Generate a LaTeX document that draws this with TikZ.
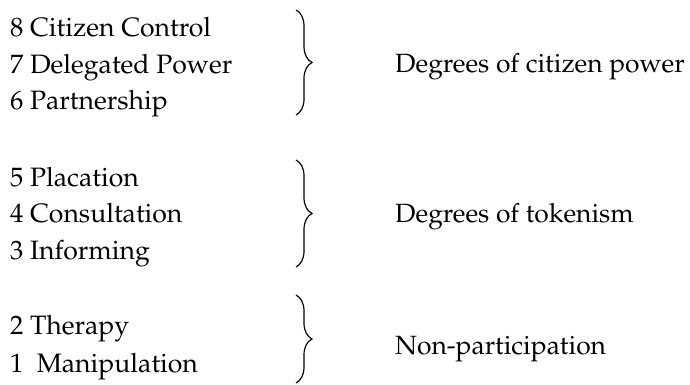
\documentclass[tikz,border=0pt]{standalone}
\usepackage[T1]{fontenc}
\usepackage{mathpazo}
\usepackage{tikz}
\usetikzlibrary{decorations.pathreplacing}

\begin{document}
\begin{tikzpicture}[
  x=1pt,y=1pt,
  rung/.style={anchor=base west,inner sep=0pt,font=\fontsize{26.6}{30}\selectfont},
  level/.style={anchor=base west,inner sep=0pt,font=\fontsize{26.4}{30}\selectfont},
  grp/.style={decorate,decoration={brace,amplitude=16pt},line width=1.2pt}
]
  \useasboundingbox (0,0) rectangle (690,385);
  % ladder rungs
  \node[rung] (r8) at (10,348) {8 Citizen Control};
  \node[rung] (r7) at (10,311.5) {7 Delegated Power};
  \node[rung] (r6) at (10,275) {6 Partnership};
  \node[rung] (r5) at (10,198) {5 Placation};
  \node[rung] (r4) at (10,162) {4 Consultation};
  \node[rung] (r3) at (10,125) {3 Informing};
  \node[rung] (r2) at (10,50) {2 Therapy};
  \node[rung] (r1) at (10,12) {1~~Manipulation};
  % braces
  \coordinate (power top) at (296,375);
  \coordinate (power bot) at (296,270);
  \coordinate (token top) at (296,225);
  \coordinate (token bot) at (296,118);
  \coordinate (nonp top) at (296,90);
  \coordinate (nonp bot) at (296,2);
  \draw[grp] (power top) -- (power bot);
  \draw[grp] (token top) -- (token bot);
  \draw[grp] (nonp top) -- (nonp bot);
  % groups
  \node[level] (power) at (395,312) {Degrees of citizen power};
  \node[level] (token) at (395,162) {Degrees of tokenism};
  \node[level] (nonp) at (395,30) {Non-participation};
\end{tikzpicture}
\end{document}
